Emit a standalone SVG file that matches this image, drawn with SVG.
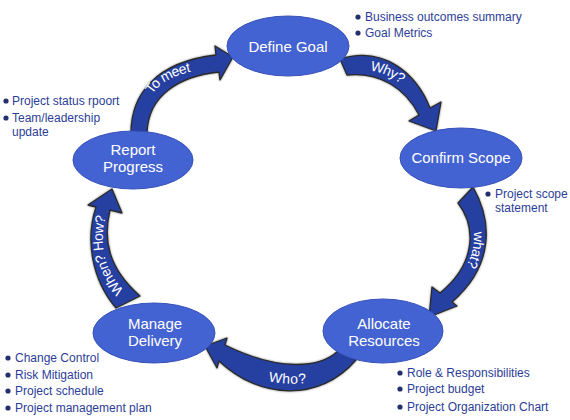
<svg xmlns="http://www.w3.org/2000/svg" xmlns:xlink="http://www.w3.org/1999/xlink" width="570" height="420" viewBox="0 0 570 420">
<style>
.arrow{fill:#2540a2;stroke:#2b2b2b;stroke-width:1.3;stroke-linejoin:round}
.node{fill:#4463d2;stroke:#3651b8;stroke-width:1}
.nl{font-family:"Liberation Sans",Arial,sans-serif;font-size:15px;fill:#ffffff;text-anchor:middle}
.al{font-family:"Liberation Sans",Arial,sans-serif;font-size:14px;fill:#ffffff;text-anchor:middle}
.b{font-family:"Liberation Sans",Arial,sans-serif;font-size:12px;fill:#2c3d98}
.dot{fill:#24306e}
</style>
<defs>
<filter id="sh" x="-10%" y="-10%" width="120%" height="120%">
<feDropShadow dx="0" dy="0" stdDeviation="1" flood-color="#000" flood-opacity="0.5"/>
</filter>
<path id="p1" d="M139,129 C140,93 152,68 217,63"/>
<path id="p2" d="M343,67 C383,58 415,80 425,111"/>
<path id="p3" d="M466,196 C485,222 487,265 446,297"/>
<path id="p4" d="M222,353 C265,385 320,386 347,356"/>
<path id="p5" d="M125,298 C98,275 92,240 103,209"/>
</defs>

<g id="connectors">
<path class="arrow" filter="url(#sh)" d="M131,133 C131,95 155,62 216,55 L215,46 L233,57 L220,80 L219,72 C180,76 148,95 147,133 Z"/>
<path class="arrow" filter="url(#sh)" d="M340,59 C385,45 417,75 430,108 L441,102 L436,131 L409,121 L419,115 C405,88 380,72 347,75 Z"/>
<path class="arrow" filter="url(#sh)" d="M473,187 C492,220 495,265 452,302 L457,306 L429,317 L432,287 L440,293 C478,262 475,225 458,203 Z"/>
<path class="arrow" filter="url(#sh)" d="M338,351 C320,368 280,372 225,345 L227,338 L205,346 L217,368 L219,361 C260,400 320,402 356,360 Z"/>
<path class="arrow" filter="url(#sh)" d="M116,308 C92,280 85,240 96,207 L88,205 L112,189 L122,213 L110,210 C103,240 108,268 140,296 Z"/>
<text class="al" dy="5"><textPath xlink:href="#p1" href="#p1" startOffset="55%">To meet</textPath></text>
<text class="al" dy="5"><textPath xlink:href="#p2" href="#p2" startOffset="45%">Why?</textPath></text>
<text class="al" dy="5"><textPath xlink:href="#p3" href="#p3" startOffset="50%">what?</textPath></text>
<text class="al" dy="6"><textPath xlink:href="#p4" href="#p4" startOffset="52%">Who?</textPath></text>
<text class="al" dy="5"><textPath xlink:href="#p5" href="#p5" startOffset="50%">When? How?</textPath></text>
</g>

<g id="define-goal">
<ellipse class="node" cx="288" cy="46" rx="61" ry="30"/>
<text class="nl" x="288" y="52">Define Goal</text>
</g>
<g id="confirm-scope">
<ellipse class="node" cx="461" cy="158" rx="61" ry="30"/>
<text class="nl" x="461" y="163">Confirm Scope</text>
</g>
<g id="allocate-resources">
<ellipse class="node" cx="383" cy="331" rx="60" ry="32"/>
<text class="nl" x="384" y="329">Allocate</text>
<text class="nl" x="384" y="346">Resources</text>
</g>
<g id="manage-delivery">
<ellipse class="node" cx="154" cy="333" rx="61" ry="30"/>
<text class="nl" x="155" y="329">Manage</text>
<text class="nl" x="155" y="346">Delivery</text>
</g>
<g id="report-progress">
<ellipse class="node" cx="133" cy="160" rx="60" ry="29"/>
<text class="nl" x="133" y="155">Report</text>
<text class="nl" x="133" y="172">Progress</text>
</g>

<g id="notes-define-goal">
<circle class="dot" cx="358" cy="17" r="2.6"/>
<text class="b" x="365" y="21">Business outcomes summary</text>
<circle class="dot" cx="358" cy="33" r="2.6"/>
<text class="b" x="365" y="37">Goal Metrics</text>
</g>
<g id="notes-report-progress">
<circle class="dot" cx="6" cy="101" r="2.6"/>
<text class="b" x="12" y="105">Project status rpoort</text>
<circle class="dot" cx="6" cy="118" r="2.6"/>
<text class="b" x="12" y="122">Team/leadership</text>
<text class="b" x="12" y="136">update</text>
</g>
<g id="notes-confirm-scope">
<circle class="dot" cx="488" cy="194" r="2.6"/>
<text class="b" x="495" y="198">Project scope</text>
<text class="b" x="495" y="212">statement</text>
</g>
<g id="notes-manage-delivery">
<circle class="dot" cx="8" cy="358" r="2.6"/>
<text class="b" x="15" y="362">Change Control</text>
<circle class="dot" cx="8" cy="375" r="2.6"/>
<text class="b" x="15" y="379">Risk Mitigation</text>
<circle class="dot" cx="8" cy="391" r="2.6"/>
<text class="b" x="15" y="395">Project schedule</text>
<circle class="dot" cx="8" cy="408" r="2.6"/>
<text class="b" x="15" y="412">Project management plan</text>
</g>
<g id="notes-allocate-resources">
<circle class="dot" cx="400" cy="373" r="2.6"/>
<text class="b" x="407" y="377">Role &amp; Responsibilities</text>
<circle class="dot" cx="400" cy="389" r="2.6"/>
<text class="b" x="407" y="393">Project budget</text>
<circle class="dot" cx="400" cy="407" r="2.6"/>
<text class="b" x="407" y="411">Project Organization Chart</text>
</g>
</svg>
